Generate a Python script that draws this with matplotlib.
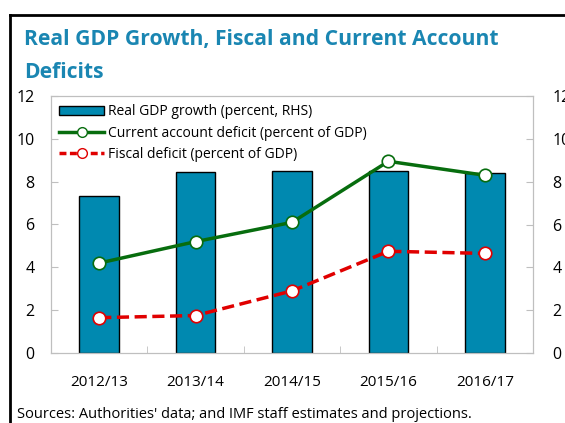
import matplotlib.pyplot as plt
import numpy as np
from matplotlib.lines import Line2D
from matplotlib.patches import Rectangle

plt.rcParams["font.family"] = ["Open Sans", "DejaVu Sans"]

years = ["2012/13", "2013/14", "2014/15", "2015/16", "2016/17"]
gdp_growth = [7.35, 8.45, 8.5, 8.5, 8.4]
current_account = [4.2, 5.2, 6.1, 8.95, 8.3]
fiscal_deficit = [1.65, 1.75, 2.9, 4.75, 4.65]

bar_color = "#0089B0"
green = "#076D0E"
red = "#E00000"
grey = "#BFBFBF"

fig = plt.figure(figsize=(5.65, 4.23), dpi=100)
ax = fig.add_axes([51 / 565, 1 - 353 / 423, 482 / 565, 257 / 423])
ax2 = ax.twinx()

x = np.arange(len(years))
ax2.bar(x, gdp_growth, width=0.41, color=bar_color, edgecolor="black", linewidth=1)
ax.plot(x, current_account, color=green, lw=2.5, marker="o", ms=9,
        mfc="white", mec=green, mew=1.2, zorder=5)
ax.plot(x, fiscal_deficit, color=red, lw=2.5, ls=(0, (3.5, 1.6)), marker="o", ms=9,
        mfc="white", mec=red, mew=1.2, zorder=5)
ax.set_zorder(ax2.get_zorder() + 1)
ax.patch.set_visible(False)

for a in (ax, ax2):
    a.set_ylim(0, 12)
    a.set_yticks(range(0, 13, 2))
    a.set_xlim(-0.5, len(years) - 0.5)
    for s in a.spines.values():
        s.set_color(grey)
    a.tick_params(axis="y", direction="in", length=5, color=grey,
                  labelsize=11.5, pad=12)

ax.set_xticks(x)
ax.set_xticklabels(years, fontsize=11)
ax.tick_params(axis="x", length=0, pad=16)
ax.set_xticks(np.arange(0.5, len(years) - 1, 1), minor=True)
ax.tick_params(axis="x", which="minor", direction="in", length=5, color=grey)
ax2.tick_params(axis="y", pad=14)

handles = [
    Rectangle((0, 0), 1, 1, fc=bar_color, ec="black", lw=1),
    Line2D([], [], color=green, lw=2.5, marker="o", ms=7, mfc="white", mec=green),
    Line2D([], [], color=red, lw=2.5, ls=(0, (2, 1)), marker="o", ms=7, mfc="white", mec=red),
]
labels = [
    "Real GDP growth (percent, RHS)",
    "Current account deficit (percent of GDP)",
    "Fiscal deficit (percent of GDP)",
]
ax.legend(handles, labels, loc="upper left", bbox_to_anchor=(0.0, 1.0),
          frameon=False, fontsize=10, handlelength=3.2, handletextpad=0.3,
          labelspacing=0.45, borderaxespad=0.2)

fig.text(24 / 565, 1 - 40 / 423, "Real GDP Growth, Fiscal and Current Account",
         fontsize=15.2, fontweight="bold", color="#1A86B2", va="center")
fig.text(24 / 565, 1 - 72 / 423, "Deficits",
         fontsize=15.2, fontweight="bold", color="#1A86B2", va="center")
fig.text(17 / 565, 1 - 414 / 423,
         "Sources: Authorities' data; and IMF staff estimates and projections.",
         fontsize=10.5, va="center")

fig.add_artist(Line2D([10 / 565, 1.0], [1 - 15 / 423, 1 - 15 / 423],
                      transform=fig.transFigure, color="black", lw=2))
fig.add_artist(Line2D([10 / 565, 10 / 565], [0, 1 - 15 / 423],
                      transform=fig.transFigure, color="black", lw=2))

fig.savefig("out.png", dpi=100)
